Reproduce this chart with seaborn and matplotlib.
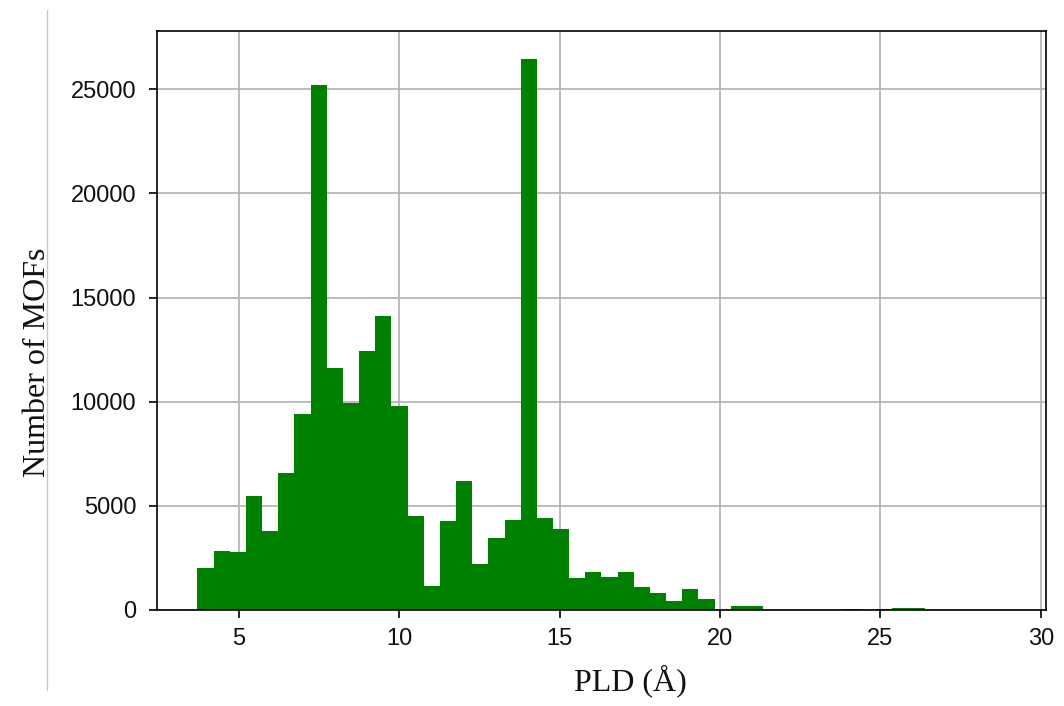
import numpy as np
import pandas as pd
import matplotlib
matplotlib.use("Agg")
import matplotlib.pyplot as plt
from matplotlib.lines import Line2D
import seaborn as sns

# Pore limiting diameter range covered by the histogram (Å) and number of bins
pld_min = 3.71
pld_max = 28.90
n_bins = 50

# Number of MOFs in each PLD bin
mof_counts = [
    2030, 2840, 2770, 5450, 3770, 6570, 9420, 25200, 11600, 9950,
    12450, 14100, 9800, 4500, 1150, 4280, 6190, 2230, 3460, 4310,
    26470, 4440, 3890, 1520, 1810, 1570, 1810, 1120, 800, 450,
    1030, 510, 0, 200, 200, 0, 0, 0, 0, 0,
    70, 0, 40, 110, 110, 0, 0, 0, 0, 20,
]

x_ticks = [5, 10, 15, 20, 25, 30]
y_ticks = [0, 5000, 10000, 15000, 20000, 25000]

sns.set_theme(style="white")
plt.rcParams["font.family"] = ["Liberation Sans", "DejaVu Sans"]

edges = np.linspace(pld_min, pld_max, n_bins + 1)
df = pd.DataFrame({
    "pld": (edges[:-1] + edges[1:]) / 2,
    "count": mof_counts,
})

fig = plt.figure(figsize=(10.64, 7.06), dpi=100)
ax = fig.add_axes([0.1476, 0.136, 0.8354, 0.820])

sns.histplot(data=df, x="pld", weights="count", bins=list(edges),
             color="green", alpha=1.0, linewidth=0, ax=ax, zorder=2)

ax.set_axisbelow(True)
ax.grid(True, color="#b0b0b0", linewidth=1.2)
for side in ["left", "right", "top", "bottom"]:
    ax.spines[side].set_visible(True)
    ax.spines[side].set_color("black")
    ax.spines[side].set_linewidth(1.2)

ax.set_xticks(x_ticks)
ax.set_yticks(y_ticks)
ax.tick_params(axis="both", which="major", direction="out", length=6,
               width=1.2, color="black", labelsize=17, labelcolor="#111111",
               bottom=True, left=True)
ax.tick_params(axis="x", pad=7)
ax.tick_params(axis="y", pad=9)

ax.set_xlabel("PLD (Å)", fontfamily="Liberation Serif", fontsize=23,
              color="#111111")
ax.set_ylabel("Number of MOFs", fontfamily="Liberation Serif", fontsize=23,
              color="#111111")
ax.xaxis.set_label_coords(0.533, -0.094)
ax.yaxis.set_label_coords(-0.118, 0.427)

# thin page rule at the left edge of the figure
fig.add_artist(Line2D([0.0442, 0.0442], [0.022, 0.986], transform=fig.transFigure,
                      color="#c8c8c8", linewidth=1.0))

fig.savefig("out.png", dpi=100)
